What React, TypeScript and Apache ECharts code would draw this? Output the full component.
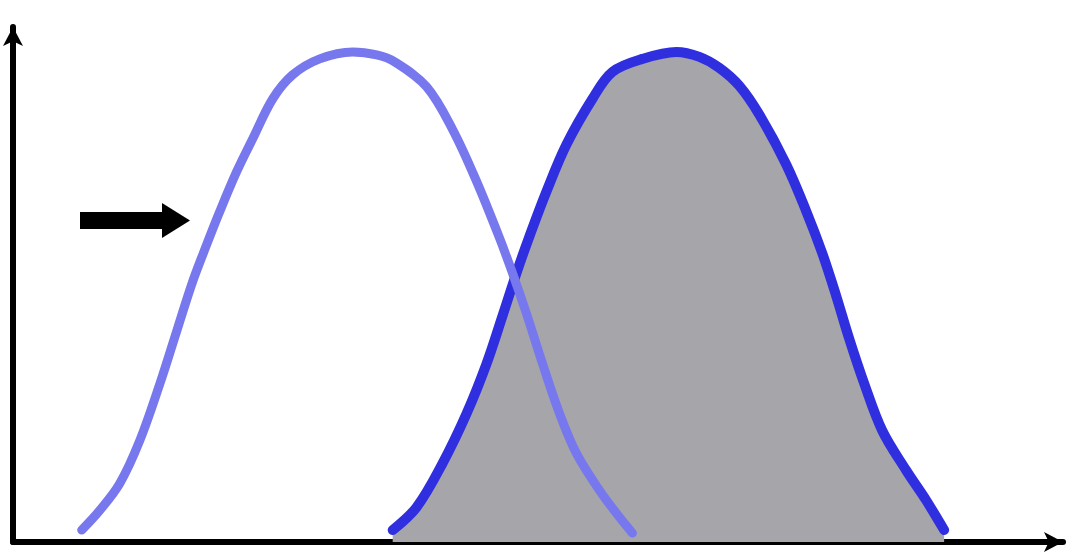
import React, { useEffect, useRef } from "react";
import * as echarts from "echarts";

// Light-blue (left) curve, chart units (x 0..100, y 0..100)
const leftCurveX = [6.54, 8.28, 10.18, 12.08, 13.99, 15.6, 17.13, 18.46, 19.7, 21.31, 22.84, 24.74, 26.64, 29.21, 32.35, 34.63, 36.35, 39.39, 41.87, 44.15, 46.34, 47.57, 48.91, 50.43, 52.05, 53.66, 55.85, 57.75, 58.99];
const leftCurveY = [2.32, 6.19, 11.41, 19.73, 30.75, 41.01, 50.68, 57.83, 64.22, 71.95, 78.34, 86.07, 90.72, 93.81, 95.16, 94.58, 93.23, 88.39, 80.08, 70.02, 58.99, 52.22, 44.29, 34.62, 24.95, 17.21, 10.06, 4.84, 1.74];

// Dark-blue (right, shaded) curve
const rightCurveX = [36.16, 38.44, 40.91, 43.2, 45.1, 46.62, 47.95, 49.19, 50.81, 52.71, 55.19, 57.09, 59.94, 63.18, 65.37, 67.27, 69.17, 71.08, 73.64, 75.55, 77.07, 78.4, 79.64, 81.07, 82.78, 85.06, 86.96, 88.68];
const rightCurveY = [2.32, 6.77, 15.28, 24.95, 34.62, 43.91, 52.22, 59.38, 68.09, 77.18, 86.07, 91.3, 93.81, 95.16, 94.2, 92.07, 88.59, 82.98, 73.31, 64.22, 56.09, 47.78, 39.46, 30.75, 21.66, 13.93, 8.12, 2.32];

const zip = (xs: number[], ys: number[]) => xs.map((x, i) => [x, ys[i]]);

export default function App() {
  const ref = useRef<HTMLDivElement>(null);
  useEffect(() => {
    if (!ref.current) return;
    const chart = echarts.init(ref.current, null, { renderer: "svg" });
    const axisLine = {
      show: true,
      symbol: ["none", "arrow"],
      symbolSize: [15, 19],
      lineStyle: { color: "#000", width: 6 },
    };
    const hidden = {
      axisTick: { show: false },
      axisLabel: { show: false },
      splitLine: { show: false },
    };
    chart.setOption({
      animation: false,
      backgroundColor: "#ffffff",
      grid: { left: 13, right: 10, top: 27, bottom: 12 },
      xAxis: { type: "value", min: 0, max: 100, axisLine, ...hidden },
      yAxis: { type: "value", min: 0, max: 100, axisLine, ...hidden },
      series: [
        {
          type: "line",
          data: zip(rightCurveX, rightCurveY),
          smooth: 0.35,
          showSymbol: false,
          lineStyle: { color: "#2f2fe0", width: 10, cap: "round", join: "round" },
          areaStyle: { color: "#a6a6aa", opacity: 1 },
          z: 2,
        },
        {
          type: "line",
          data: zip(leftCurveX, leftCurveY),
          smooth: 0.35,
          showSymbol: false,
          lineStyle: { color: "#7878ee", width: 9, cap: "round", join: "round" },
          z: 3,
        },
      ],
      graphic: [
        {
          type: "rect",
          shape: { x: 80, y: 212, width: 86, height: 17 },
          style: { fill: "#000" },
        },
        {
          type: "polygon",
          shape: { points: [[162, 203], [190, 220.5], [162, 238]] },
          style: { fill: "#000" },
        },
      ],
    });
    return () => chart.dispose();
  }, []);
  return (
    <div
      ref={ref}
      style={{ position: "fixed", left: 0, top: 0, width: 1073, height: 554 }}
    />
  );
}
